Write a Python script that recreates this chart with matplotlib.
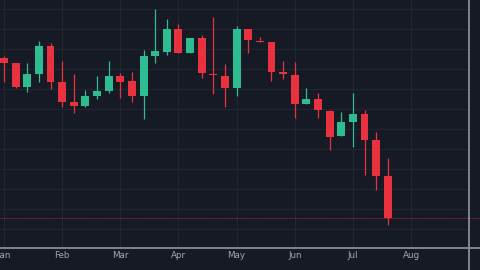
import matplotlib
matplotlib.use("Agg")
import matplotlib.pyplot as plt
import numpy as np

# weekly-ish OHLC bars (arbitrary price units)
opens = [185.5, 183, 171, 177.5, 191.5, 173.5, 163.5, 161.5, 166.5, 169,
         176.5, 174, 166.5, 186.5, 188.5, 200, 188, 195.5, 177.5, 176.5,
         170.5, 200, 194, 193.5, 178.5, 177, 162.5, 165, 159, 146.5,
         153.5, 157.5, 144.5, 126.5]
highs = [186.5, 183, 183, 194, 193, 184, 177.5, 169.5, 176.5, 184,
         178, 178.5, 189.5, 210, 205, 202.5, 195.5, 197, 206, 182.5,
         201.5, 200, 196, 193.5, 184, 183.5, 170.5, 168, 159.5, 158.5,
         168, 159.5, 148.5, 135.5]
lows = [173.5, 170.5, 168.5, 173.5, 170, 161, 158, 161, 165, 168,
        165.5, 163.5, 155, 183, 187, 188, 188, 175.5, 167.5, 161,
        166.5, 188, 193.5, 174, 175, 155.5, 162.5, 155.5, 139.5, 146.5,
        141, 127, 119.5, 102]
closes = [183, 171, 177.5, 191.5, 173.5, 163.5, 161.5, 166.5, 169, 176.5,
          173.5, 166.5, 186.5, 189, 200, 188, 195.5, 178, 177, 170.5,
          200, 194.5, 193.5, 178.5, 177.5, 162.5, 165, 159.5, 146, 153.5,
          157.5, 144.5, 126.5, 105.5]

month_labels = ["Jan", "Feb", "Mar", "Apr", "May", "Jun", "Jul", "Aug"]
month_pos = [0, 5, 10, 15, 20, 25, 30, 35]
grid_prices = [100, 110, 120, 130, 140, 150, 160, 170, 180, 190, 200, 210]

BG = "#161a25"
GRID = "#222632"
BORDER = "#8a8d96"
UP = "#2ebd91"
DOWN = "#e8323f"
TEXT = "#a3a6af"

x_left, x_right = -0.344, 40.93
y_bot, y_top = 79.5, 214.5
plot_right = 40.0
plot_bottom = 90.5

fig = plt.figure(figsize=(4.8, 2.7), dpi=100, facecolor=BG)
ax = fig.add_axes([0, 0, 1, 1])
ax.set_facecolor(BG)
ax.set_xlim(x_left, x_right)
ax.set_ylim(y_bot, y_top)
ax.axis("off")

ax.hlines(grid_prices, x_left, plot_right, color=GRID, lw=0.8, zorder=1)
ax.vlines(month_pos, plot_bottom, y_top, color=GRID, lw=0.8, zorder=1)

idx = np.arange(len(opens))
o = np.array(opens)
c = np.array(closes)
colors = [UP if cc >= oo else DOWN for oo, cc in zip(o, c)]
ax.vlines(idx, lows, highs, color=colors, lw=0.9, zorder=2)
body_bottom = np.minimum(o, c)
body_height = np.maximum(np.abs(c - o), 0.7)
ax.bar(idx, body_height, bottom=body_bottom, width=0.68, color=colors,
       linewidth=0, zorder=3)

# last price line
ax.axhline(closes[-1], color=DOWN, lw=0.6, ls=(0, (1, 1)), alpha=0.8, zorder=1)

# scale borders
ax.axvline(plot_right, color=BORDER, lw=1.3, zorder=4)
ax.axhline(plot_bottom, color=BORDER, lw=1.3, zorder=4)

for pos, lab in zip(month_pos, month_labels):
    ax.text(pos, 87, lab, ha="center", va="center", color=TEXT, fontsize=6.3)

fig.savefig("out.png", dpi=100, facecolor=BG)
